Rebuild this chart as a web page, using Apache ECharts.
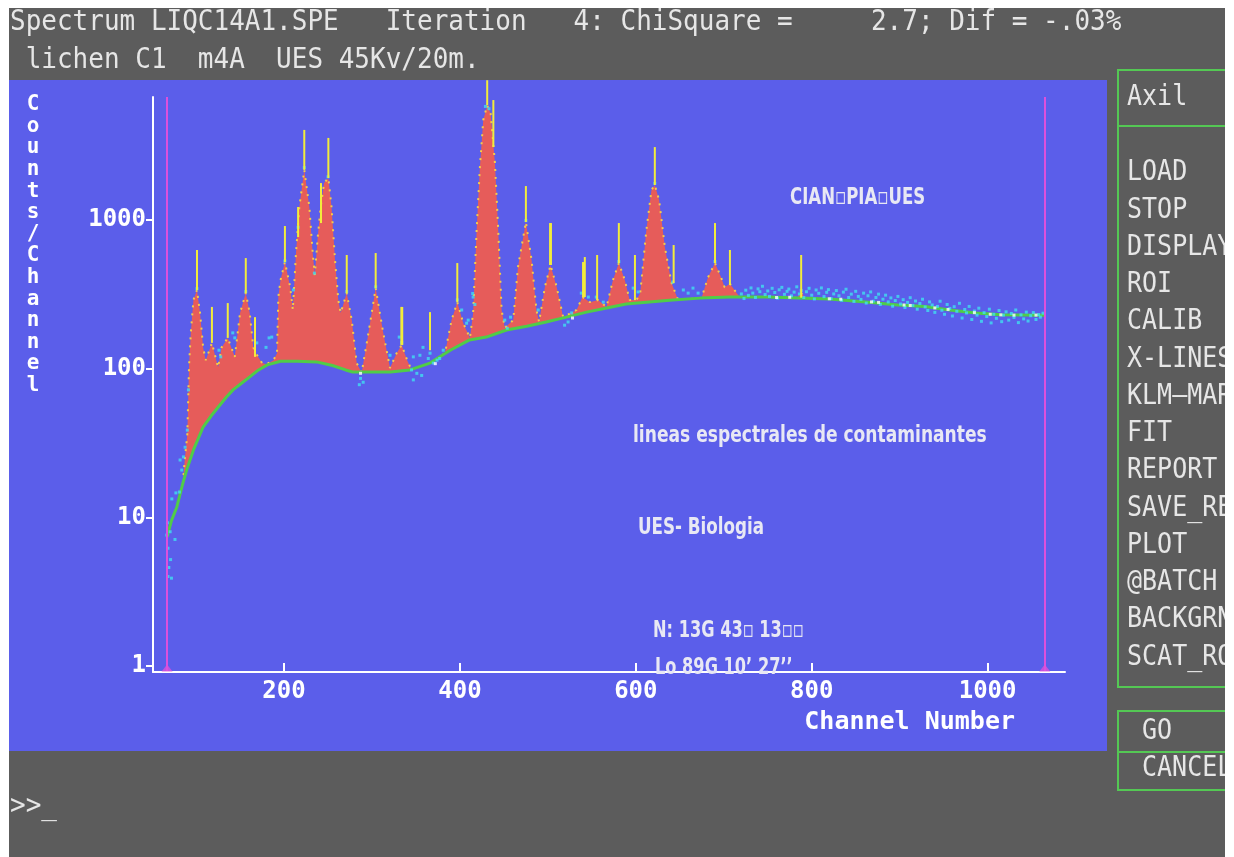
<!DOCTYPE html>
<html>
<head>
<meta charset="utf-8">
<title>Spectrum LIQC14A1.SPE</title>
<script src="https://cdn.jsdelivr.net/npm/echarts@6/dist/echarts.min.js"></script>
<style>
  html, body { margin: 0; padding: 0; background: #ffffff; }
  #chart { width: 1234px; height: 857px; }
</style>
</head>
<body>
<div id="chart"></div>
<script>
// ---- spectrum values: [channel, counts/channel] ----

// fitted spectrum (peaks on top of the continuum)
const fitCurve = [
  [85, 17], [87, 24], [90, 36], [92, 105], [94, 175], [97, 290], [101, 338], [104.5, 237],
  [108, 139], [111, 114], [118, 149], [125, 102], [129, 139], [136, 161], [144, 120],
  [150, 237], [156.5, 322], [161, 237], [165, 139], [168, 127], [175, 109], [180, 107],
  [188, 114], [192, 127], [193.5, 303], [196, 394], [201, 521], [207, 354], [210, 248],
  [213.6, 599], [217.4, 1222], [223, 2170], [228.8, 1222], [232.6, 599], [235, 426],
  [238.3, 767], [241.7, 1222], [245.5, 1770], [250.4, 1915], [254, 1222], [258, 536],
  [261.7, 289], [264.4, 237], [271.3, 322], [277, 212], [282.6, 109], [288.3, 94],
  [296, 174], [304.2, 348], [312.8, 174], [320.5, 101], [328, 127], [333.8, 144],
  [340, 114], [345, 98], [366, 109], [383, 127], [390.5, 212], [397, 280], [403.8, 202],
  [411.4, 161], [415, 237], [419, 855], [422.7, 2260], [426.5, 4690], [431, 5900],
  [434.9, 5200], [439.8, 2420], [443.5, 870], [447.4, 248], [451, 188], [460.6, 212],
  [466, 482], [475, 968], [481.5, 536], [487, 248], [490, 206], [496.6, 354], [503, 498],
  [510, 354], [517.4, 222], [532.6, 248], [539.4, 303], [547.7, 280], [557, 289],
  [566.7, 260], [574, 394], [580.7, 513], [587.5, 394], [593, 289], [600.8, 289],
  [605, 322], [612, 855], [617.8, 1590], [621.6, 1718], [626.5, 1360], [633, 658],
  [640.6, 376], [648, 291], [674.7, 298], [682, 410], [690, 513], [697, 410], [701, 352],
  [707, 372], [718, 303], [740, 303], [783, 299], [788, 322], [793, 298], [800, 297]
];

// continuum (background) under the peaks
const backgroundCurve = [
  [67, 7.4], [72, 9.5], [78, 11.7], [85, 17], [90, 21.5], [97, 28.4], [108, 40.5],
  [117, 48], [125, 55], [134, 64], [142, 72], [152, 80], [161, 88], [171, 98], [181, 106],
  [196, 112], [215, 112], [237, 111], [255, 105], [270, 98], [278, 95], [300, 95],
  [321, 95], [343, 98], [366, 109], [389, 133], [411, 156], [430, 163], [453, 182],
  [476, 193], [498, 206], [521, 222], [544, 240], [567, 256], [589, 272], [612, 280],
  [642, 289], [673, 298], [707, 303], [749, 303], [786, 298], [820, 294], [865, 280],
  [898, 268], [929, 262], [957, 248], [987, 237], [1015, 230], [1065, 229]
];

// measured counts
const measuredCounts = [
  [66.7, 7.6], [67.4, 9.2], [68, 6.2], [68, 4.0], [69, 4.6], [70.5, 8.0], [71, 5.2],
  [72, 3.9], [72.4, 13.3], [76, 7.1], [77, 14.6], [81, 14.8], [81.8, 24.3], [83.7, 20.8],
  [85.6, 25.5], [87.5, 29.6], [90, 38.6], [91.3, 72],
  [101, 345], [126, 133], [128, 120], [141.7, 174], [144, 161], [156.5, 330], [169, 149],
  [179.5, 139], [183, 161], [186, 163], [201, 530], [210.6, 338], [216, 893], [223, 2250],
  [234.5, 439], [250, 1950], [271.3, 330], [285.6, 78], [287, 86], [290, 81],
  [304.2, 355], [320.5, 123], [331, 163], [333.8, 150], [345, 98], [347, 84], [347, 120],
  [351, 93], [354.5, 123], [356.5, 90], [358, 139], [364, 117], [366, 127], [369.7, 109],
  [374, 114], [377, 117], [381, 133], [397, 290], [402, 248], [407.6, 202], [409.4, 212],
  [414.5, 320], [415, 303], [417, 270], [429, 5800], [433, 5600], [451, 212], [453.8, 187],
  [457.6, 222], [475, 990], [489, 248], [503, 510], [519, 196], [523, 206], [527, 237],
  [538, 322], [546, 303], [555, 303], [563, 280], [580.7, 525], [597, 348], [602.6, 328],
  [621.6, 1760], [642, 382], [654, 338], [659.5, 322], [665, 348], [670.8, 322], [690, 525],
  [720, 318], [723, 296], [725, 337], [728, 311], [731, 349], [733, 322], [736, 301],
  [739, 344], [741, 329], [744, 358], [747, 315], [750, 333], [752, 306], [755, 347],
  [758, 325], [761, 298], [763, 339], [766, 352], [769, 316], [772, 331], [774, 343],
  [777, 309], [780, 327], [783, 355], [786, 318], [788, 336], [791, 301], [794, 329],
  [797, 347], [800, 312], [803, 294], [805, 338], [808, 321], [811, 349], [814, 305],
  [817, 326], [819, 340], [822, 296], [825, 318], [828, 335], [831, 309], [834, 288],
  [836, 327], [839, 342], [842, 301], [845, 317], [848, 283], [850, 331], [853, 306],
  [856, 292], [859, 322], [862, 276], [864, 309], [867, 328], [870, 284], [873, 301],
  [876, 317], [878, 270], [881, 293], [884, 312], [887, 281], [890, 299], [892, 263],
  [895, 287], [898, 306], [901, 272], [904, 291], [906, 258], [909, 279], [912, 300],
  [915, 266], [918, 285], [920, 251], [923, 274], [926, 293], [929, 260], [932, 246],
  [934, 281], [937, 268], [940, 239], [943, 262], [946, 284], [948, 247], [951, 232],
  [954, 270], [957, 254], [960, 226], [962, 261], [965, 243], [968, 275], [971, 219],
  [974, 250], [976, 237], [979, 262], [982, 214], [985, 244], [988, 229], [990, 255],
  [993, 208], [996, 238], [999, 224], [1002, 251], [1004, 203], [1007, 232], [1010, 218],
  [1013, 246], [1016, 207], [1018, 229], [1021, 241], [1024, 212], [1027, 235], [1030, 221],
  [1032, 248], [1035, 204], [1038, 230], [1041, 216], [1044, 240], [1046, 209], [1049, 227],
  [1052, 238], [1055, 214], [1058, 231], [1060, 222], [1063, 236]
];

// measured counts lying on the fit
const countsOnFit = [
  [287, 93], [372, 108], [528, 219], [760, 301], [775, 302], [820, 295], [833, 293],
  [868, 281], [876, 279], [905, 268], [912, 266], [940, 256], [955, 250], [985, 238],
  [1003, 232], [1015, 230], [1030, 229], [1055, 229]
];

// X-ray line markers: [channel, from counts, to counts]
const lineMarkers = [
  [101, 338, 628], [118, 149, 260], [136, 161, 276], [156.5, 322, 554], [167, 120, 222],
  [201, 521, 910], [216, 767, 1222], [223, 2170, 4030], [242, 953, 1770], [250.4, 1915, 3560],
  [271.3, 322, 581], [304.2, 348, 599], [333.4, 144, 260], [334.4, 144, 260], [366, 133, 240],
  [397, 280, 513], [431, 5900, 8700], [438, 3090, 6400], [475, 968, 1690], [502.5, 498, 953],
  [503.5, 498, 953], [540, 303, 521], [542, 303, 563], [556, 289, 581], [580.7, 513, 953],
  [599, 289, 581], [621.6, 1718, 3090], [643, 376, 678], [690, 513, 953], [707, 365, 628],
  [788, 300, 581]
];

// region-of-interest limits
const roiLimits = [67, 1065];

// axis ticks
const xTickValues = [200, 400, 600, 800, 1000];
const yTickValues = [1, 10, 100, 1000];
const channelRange = [51, 1088];
const countsRange = [0.912, 6710];

// program text
const headerLine1 = 'Spectrum LIQC14A1.SPE   Iteration   4: ChiSquare =     2.7; Dif = -.03%';
const headerLine2 = ' lichen C1  m4A  UES 45Kv/20m.';
const menuTitle = 'Axil';
const menuItems = ['LOAD', 'STOP', 'DISPLAY', 'ROI', 'CALIB', 'X-LINES', 'KLM—MARK', 'FIT',
  'REPORT', 'SAVE_RES', 'PLOT', '@BATCH', 'BACKGRND', 'SCAT_ROI'];
const actionItems = ['GO', 'CANCEL'];
const notes = ['CIAN▫PIA▫UES', 'lineas espectrales de contaminantes', 'UES- Biologia',
  'N: 13G 43▫ 13▫▫', 'Lo 89G 10’ 27’’'];
const yTitle = 'Counts/Channel';
const xTitle = 'Channel Number';
const prompt = '>>_';

// ---- colours ----
const GRAY = '#5c5c5c';
const PANEL = '#5b5eea';
const RED = '#e65c5a';
const GREEN = '#50cc48';
const YELLOW = '#f2ec3c';
const DOTS = '#f4cc48';
const CYAN = '#40dff0';
const MAGENTA = '#dc50dc';
const BOX = '#54c854';
const TEXT = '#e6e6e6';
const MONO = '"DejaVu Sans Mono", "Liberation Mono", monospace';

const lg = v => Math.log10(v);
const toLog = pts => pts.map(([c, n]) => [c, lg(n)]);

const chart = echarts.init(document.getElementById('chart'), null, { renderer: 'canvas' });

const graphic = [
  { type: 'rect', z: 0, shape: { x: 0, y: 0, width: 1234, height: 857 }, style: { fill: GRAY } },
  { type: 'rect', z: 0, shape: { x: 9, y: 80, width: 1098, height: 671 }, style: { fill: PANEL } },
  { type: 'text', z: 1, x: 10, y: 22, scaleY: 1.12,
    style: { text: headerLine1, font: '26px ' + MONO, fill: TEXT, verticalAlign: 'middle' } },
  { type: 'text', z: 1, x: 10, y: 60, scaleY: 1.12,
    style: { text: headerLine2, font: '26px ' + MONO, fill: TEXT, verticalAlign: 'middle' } },
  { type: 'text', z: 1, x: 10, y: 806, scaleY: 1.12,
    style: { text: prompt, font: '26px ' + MONO, fill: TEXT, verticalAlign: 'middle' } },
  // menu boxes
  { type: 'rect', z: 1, shape: { x: 1118, y: 70, width: 200, height: 617 },
    style: { fill: 'none', stroke: BOX, lineWidth: 2 } },
  { type: 'line', z: 1, shape: { x1: 1118, y1: 126, x2: 1300, y2: 126 },
    style: { stroke: BOX, lineWidth: 2 } },
  { type: 'rect', z: 1, shape: { x: 1118, y: 711, width: 200, height: 79 },
    style: { fill: 'none', stroke: BOX, lineWidth: 2 } },
  { type: 'line', z: 1, shape: { x1: 1118, y1: 752, x2: 1300, y2: 752 },
    style: { stroke: BOX, lineWidth: 2 } },
  { type: 'text', z: 1, x: 1127, y: 98, scaleY: 1.15,
    style: { text: menuTitle, font: '25px ' + MONO, fill: TEXT, verticalAlign: 'middle' } },
  ...menuItems.map((t, i) => ({
    type: 'text', z: 1, x: 1127, y: 173 + i * 37.25, scaleY: 1.15,
    style: { text: t, font: '25px ' + MONO, fill: TEXT, verticalAlign: 'middle' }
  })),
  ...actionItems.map((t, i) => ({
    type: 'text', z: 1, x: 1142, y: 732 + i * 37, scaleY: 1.15,
    style: { text: t, font: '25px ' + MONO, fill: TEXT, verticalAlign: 'middle' }
  })),
  // axis titles
  { type: 'text', z: 1, x: 33, y: 94,
    style: { text: yTitle.split('').join('\n'), font: 'bold 21px ' + MONO, fill: '#ffffff',
      align: 'center', verticalAlign: 'top', lineHeight: 21.6 } },
  { type: 'text', z: 1, x: 1015, y: 722,
    style: { text: xTitle, font: 'bold 25px ' + MONO, fill: '#ffffff',
      align: 'right', verticalAlign: 'middle' } },
  // annotations written on the plot
  ...[[790, 198, 0.92], [633, 436, 0.95], [638, 528, 0.93], [653, 631, 0.9], [655, 668, 0.9]]
    .map(([x, y, sx], i) => ({
      type: 'text', z: 8, x: x, y: y, scaleX: sx, scaleY: 1.3,
      style: { text: notes[i], font: 'bold 18px "DejaVu Sans", sans-serif', fill: '#e8e8f4',
        align: 'left', verticalAlign: 'middle' }
    })),
  // screen edges
  { type: 'rect', z: 100, shape: { x: 1225, y: 0, width: 9, height: 857 }, style: { fill: '#ffffff' } },
  { type: 'rect', z: 100, shape: { x: 0, y: 0, width: 1234, height: 8 }, style: { fill: '#ffffff' } },
  { type: 'rect', z: 100, shape: { x: 0, y: 0, width: 9, height: 857 }, style: { fill: '#ffffff' } }
];

const axisFont = { color: '#ffffff', fontFamily: MONO, fontWeight: 'bold', fontSize: 24 };

const option = {
  animation: false,
  backgroundColor: '#ffffff',
  graphic: graphic,
  grid: { left: 153, top: 97, width: 912, height: 575, containLabel: false },
  xAxis: {
    type: 'value',
    min: channelRange[0],
    max: channelRange[1],
    z: 5,
    axisLine: { show: true, onZero: false, lineStyle: { color: '#ffffff', width: 2 } },
    axisTick: { show: true, customValues: xTickValues, inside: true, length: 9,
      lineStyle: { color: '#ffffff', width: 2 } },
    axisLabel: Object.assign({ customValues: xTickValues, margin: 8,
      formatter: v => String(v) }, axisFont),
    splitLine: { show: false }
  },
  yAxis: {
    type: 'value',
    min: lg(countsRange[0]),
    max: lg(countsRange[1]),
    z: 5,
    axisLine: { show: true, onZero: false, lineStyle: { color: '#ffffff', width: 2 } },
    axisTick: { show: true, customValues: yTickValues.map(lg), length: 7,
      lineStyle: { color: '#ffffff', width: 2 } },
    axisLabel: Object.assign({
      customValues: yTickValues.map(lg), margin: 7,
      formatter: v => String(Math.round(Math.pow(10, v)))
    }, axisFont),
    splitLine: { show: false }
  },
  series: [
    {
      name: 'fit',
      type: 'line',
      z: 2,
      data: toLog(fitCurve),
      symbol: 'none',
      lineStyle: { color: DOTS, width: 2, type: [2, 6] },
      areaStyle: { color: RED, opacity: 1, origin: 'start' }
    },
    {
      name: 'background',
      type: 'line',
      z: 3,
      data: toLog(backgroundCurve),
      symbol: 'none',
      lineStyle: { color: GREEN, width: 3 },
      areaStyle: { color: PANEL, opacity: 1, origin: 'start' }
    },
    {
      name: 'counts',
      type: 'scatter',
      z: 4,
      data: toLog(measuredCounts),
      symbol: 'rect',
      symbolSize: 3,
      itemStyle: { color: CYAN }
    },
    {
      name: 'counts on fit',
      type: 'scatter',
      z: 4,
      data: toLog(countsOnFit),
      symbol: 'rect',
      symbolSize: 3,
      itemStyle: { color: '#ffffff' }
    },
    {
      name: 'lines',
      type: 'custom',
      z: 6,
      clip: false,
      data: lineMarkers.map(([c, lo, hi]) => [c, lg(lo), lg(hi)]),
      encode: { x: 0, y: [1, 2] },
      renderItem: (params, api) => {
        const p0 = api.coord([api.value(0), api.value(1)]);
        const p1 = api.coord([api.value(0), api.value(2)]);
        return {
          type: 'line',
          shape: { x1: p0[0], y1: p0[1], x2: p1[0], y2: p1[1] },
          style: { stroke: YELLOW, lineWidth: 2 }
        };
      }
    },
    {
      name: 'roi',
      type: 'scatter',
      z: 6,
      data: roiLimits.map(c => [c, lg(countsRange[0])]),
      symbol: 'triangle',
      symbolSize: [11, 7],
      symbolOffset: [0, -4],
      itemStyle: { color: MAGENTA },
      markLine: {
        silent: true,
        symbol: 'none',
        label: { show: false },
        lineStyle: { color: MAGENTA, width: 2, type: 'solid' },
        data: roiLimits.map(c => ({ xAxis: c }))
      }
    }
  ]
};

chart.setOption(option);
</script>
</body>
</html>
